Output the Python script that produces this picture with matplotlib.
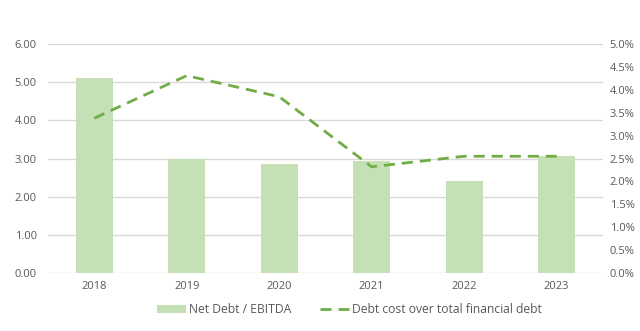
import numpy as np
import matplotlib.pyplot as plt
from matplotlib.ticker import FuncFormatter

years = ["2018", "2019", "2020", "2021", "2022", "2023"]
net_debt_ebitda = [5.10, 3.00, 2.85, 2.94, 2.41, 3.07]
debt_cost_pct = [3.38, 4.31, 3.85, 2.32, 2.55, 2.55]

plt.rcParams['font.family'] = ['Open Sans', 'DejaVu Sans']
txt = '#595959'

fig = plt.figure(figsize=(6.4, 3.31), dpi=100)
ax = fig.add_axes([0.075, 0.175, 0.867, 0.692])
x = np.arange(len(years))

ax.set_axisbelow(True)
ax.grid(axis='y', color='#d9d9d9', lw=1)
bars = ax.bar(x, net_debt_ebitda, width=0.4, color='#c5e0b4', label='Net Debt / EBITDA', zorder=2)
ax.set_ylim(0, 6)
ax.set_yticks(np.arange(0, 6.01, 1))
ax.yaxis.set_major_formatter(FuncFormatter(lambda v, p: f"{v:.2f}"))
ax.set_xlim(-0.5, len(years) - 0.5)
ax.set_xticks(x)
ax.set_xticklabels(years)

ax2 = ax.twinx()
line, = ax2.plot(x, debt_cost_pct, color='#70ad47', lw=2, ls=(0, (4, 2.5)),
                 label='Debt cost over total financial debt', zorder=3)
ax2.set_ylim(0, 5)
ax2.set_yticks(np.arange(0, 5.01, 0.5))
ax2.yaxis.set_major_formatter(FuncFormatter(lambda v, p: f"{v:.1f}%"))

for a in (ax, ax2):
    for s in a.spines.values():
        s.set_visible(False)
    a.tick_params(length=0, labelsize=8, colors=txt, pad=6)
ax.tick_params(axis='y', pad=8)
ax2.tick_params(axis='y', pad=5)

fig.legend([bars, line], ['Net Debt / EBITDA', 'Debt cost over total financial debt'],
           loc='center', bbox_to_anchor=(0.546, 0.064), ncol=2, frameon=False,
           fontsize=8.7, labelcolor=txt, handlelength=2.4, columnspacing=2.3,
           handletextpad=0.3)

fig.savefig('out.png', dpi=100)
